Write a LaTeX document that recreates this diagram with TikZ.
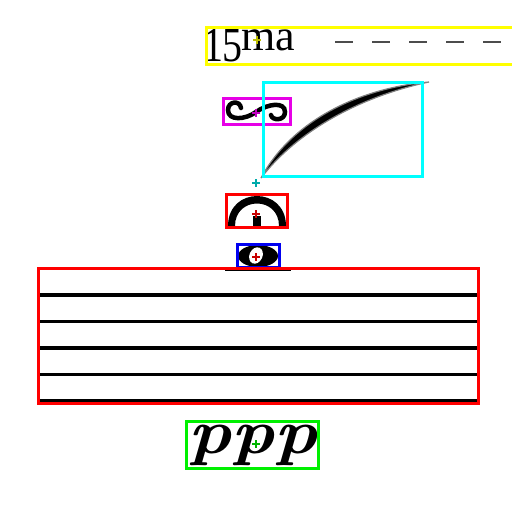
\documentclass[tikz,border=0pt]{standalone}
\usepackage{fontspec}
\usepackage{xcolor}
\newfontfamily\engravefont{Liberation Serif}
\definecolor{boxyellow}{RGB}{255,255,0}
\definecolor{boxmagenta}{RGB}{230,0,230}
\definecolor{boxcyan}{RGB}{0,255,255}
\definecolor{boxred}{RGB}{255,0,0}
\definecolor{boxblue}{RGB}{0,0,240}
\definecolor{boxgreen}{RGB}{0,240,0}
\definecolor{markyellow}{RGB}{190,190,0}
\definecolor{markmagenta}{RGB}{190,0,190}
\definecolor{markcyan}{RGB}{0,170,170}
\definecolor{markred}{RGB}{200,0,0}
\definecolor{markgreen}{RGB}{0,180,0}
\tikzstyle{glyphbox} = [line width=3pt]
\tikzstyle{anchormark} = [line width=2pt]
\tikzstyle{staffline} = [line width=3.2pt, black]
\tikzstyle{glyphtext} = [inner sep=0pt, outer sep=0pt]
\newcommand{\anchorcross}[2]{%
  \draw[anchormark,#1] (#2) ++(-4,0) -- ++(8,0) (#2) ++(0,-4) -- ++(0,8);}

\begin{document}
\begin{tikzpicture}[x=1pt,y=-1pt]
\useasboundingbox (0,0) rectangle (512,512);
\fill[white] (0,0) rectangle (512,512);
% ottava line
\node[glyphtext, anchor=base west, xscale=0.85, yscale=1.05] (fifteen) at (203,61)
  {\engravefont\fontsize{47}{47}\selectfont 15};
\node[glyphtext, anchor=base west] (ma) at (241,50)
  {\engravefont\fontsize{44}{44}\selectfont ma};
\draw[line width=2.2pt, black!70, dash pattern=on 18pt off 19pt] (335,42) -- (512,42);
\draw[glyphbox, boxyellow] (206,27) rectangle (516,64);
\anchorcross{markyellow}{257,40}
% turn
\draw[line width=4.5pt, line cap=round] (241,108) .. controls (240,100) and (228,101) .. (228,110)
  .. controls (228,121) and (245,120) .. (256,112) .. controls (267,104) and (285,101) .. (285,112)
  .. controls (285,121) and (272,121) .. (271,115);
\draw[glyphbox, boxmagenta] (223,98) rectangle (290,124);
\anchorcross{markmagenta}{256,113}
% slur
\fill[black] (261,178) .. controls (292,120) and (360,88) .. (429,82)
  .. controls (362,96) and (298,130) .. (261,178) -- cycle;
\draw[line width=1.2pt, black!50] (261,178) .. controls (292,120) and (360,88) .. (429,82)
  .. controls (362,96) and (298,130) .. (261,178);
\draw[glyphbox, boxcyan] (263,82) rectangle (422,176);
\anchorcross{markcyan}{256,183}
% fermata
\fill[black] (228,226) .. controls (228,186) and (286,186) .. (286,226) -- (279,226)
  .. controls (279,196) and (235,196) .. (235,226) -- cycle;
\fill[black] (253,216) rectangle (261,226);
\draw[glyphbox, boxred] (226,194) rectangle (287,227);
\anchorcross{markred}{256,214}
% whole note on ledger line
\fill[black] (258,256) ellipse (20 and 11);
\fill[white, rotate around={-25:(256,255.5)}] (256,255.5) ellipse (6.5 and 8.5);
\draw[line width=3pt] (225,269.5) -- (291,269.5);
\draw[glyphbox, boxblue] (237,244) rectangle (279,267);
\anchorcross{markred}{256,257}
% staff
\foreach \y in {295,321.5,348,374.5,401}
  \draw[staffline] (40,\y) -- (477,\y);
\draw[glyphbox, boxred] (38,268) rectangle (478,403);
% dynamic
\node[glyphtext, xscale=1.15] (dynamic) at (253,445)
  {\fontsize{63}{63}\selectfont\bfseries\itshape ppp};
\draw[glyphbox, boxgreen] (186,421) rectangle (318,468);
\anchorcross{markgreen}{256,444}
\end{tikzpicture}
\end{document}
